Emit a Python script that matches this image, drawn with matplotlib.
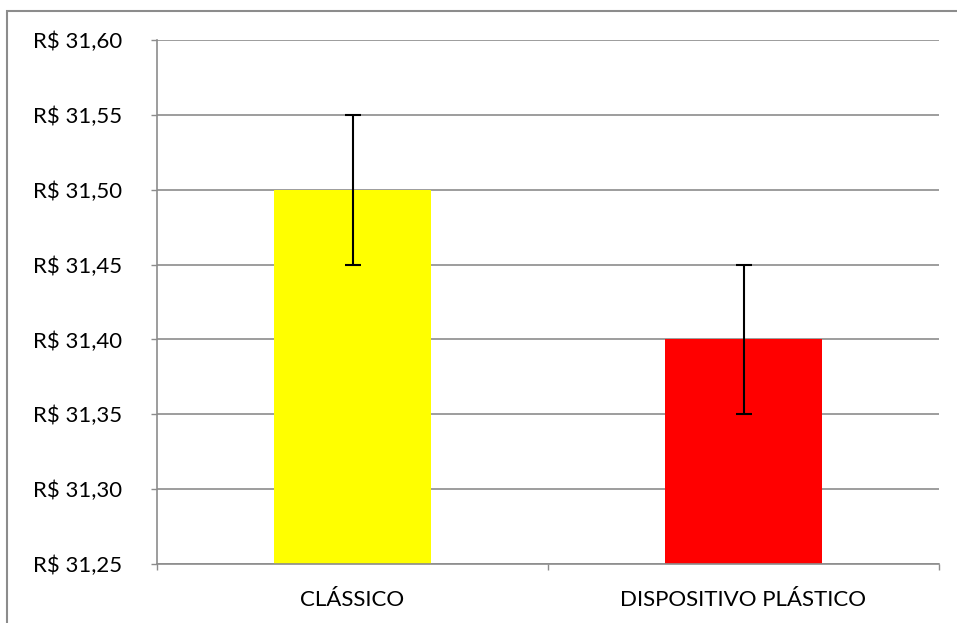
import matplotlib
matplotlib.use("Agg")
import matplotlib.pyplot as plt
from matplotlib.patches import Rectangle

categories = ["CLÁSSICO", "DISPOSITIVO PLÁSTICO"]
values = [31.50, 31.40]
errors = [0.05, 0.05]
colors = ["#FFFF00", "#FF0000"]
yticks = [31.25, 31.30, 31.35, 31.40, 31.45, 31.50, 31.55, 31.60]
ytick_labels = ["R$ 31,25", "R$ 31,30", "R$ 31,35", "R$ 31,40",
                "R$ 31,45", "R$ 31,50", "R$ 31,55", "R$ 31,60"]

plt.rcParams['font.family'] = ['Lato', 'DejaVu Sans']

W, H = 957, 623
fig = plt.figure(figsize=(W / 100, H / 100), dpi=100)
ax = fig.add_axes([157 / W, 1 - 564 / H, (939 - 157) / W, (564 - 40) / H])

# outer border
fig.patches.append(Rectangle((7.5 / W, -0.05), 1.2, 1 - 10.5 / H + 0.05,
                             transform=fig.transFigure, fill=False,
                             edgecolor="#8C8C8C", linewidth=1.5))

x = [0, 1]
ax.bar(x, [v - yticks[0] for v in values], bottom=yticks[0], width=0.4,
       color=colors, zorder=2)
ax.errorbar(x, values, yerr=errors, fmt="none", ecolor="black",
            elinewidth=1.5, capsize=6, capthick=1.5, zorder=3)

ax.set_xlim(-0.5, 1.5)
ax.set_ylim(31.25, 31.60)
ax.set_yticks(yticks)
ax.set_yticklabels(ytick_labels, fontsize=16)
ax.set_xticks(x)
ax.set_xticklabels(categories, fontsize=16)
ax.tick_params(axis="x", length=0, pad=19)
ax.tick_params(axis="y", length=4.3, width=1, color="#8C8C8C", pad=21)
ax.set_xticks([-0.5, 0.5, 1.5], minor=True)
ax.tick_params(axis="x", which="minor", length=4.3, width=1, color="#8C8C8C")
ax.grid(axis="y", color="#8C8C8C", linewidth=1.2, zorder=0)
ax.set_axisbelow(True)
for s in ["top", "right"]:
    ax.spines[s].set_visible(False)
for s in ["left", "bottom"]:
    ax.spines[s].set_color("#8C8C8C")
    ax.spines[s].set_linewidth(1.2)

fig.savefig("out.png", dpi=100)
